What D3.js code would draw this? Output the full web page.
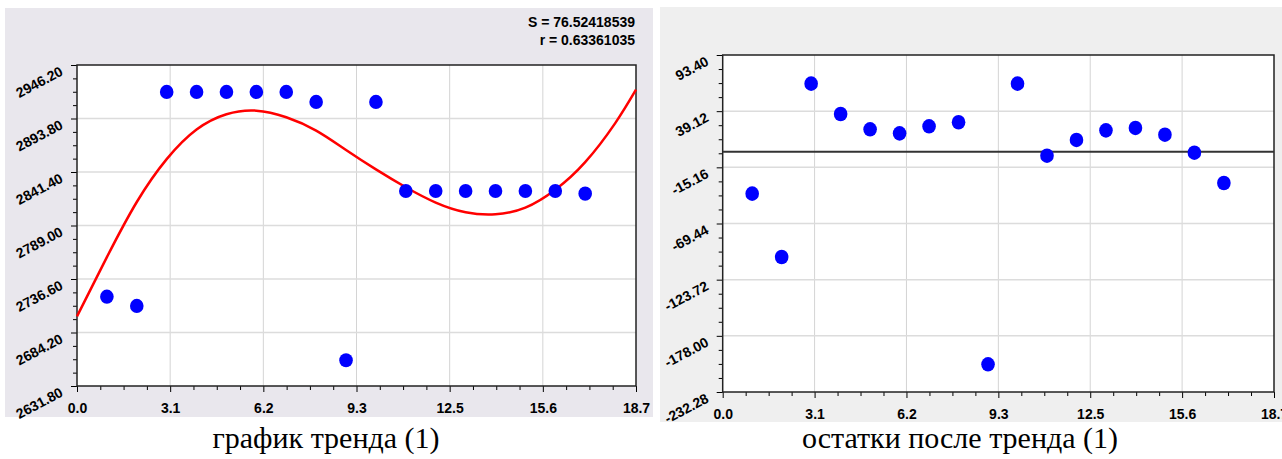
<!DOCTYPE html>
<html>
<head>
<meta charset="utf-8">
<script src="https://cdn.jsdelivr.net/npm/d3@7"></script>
<style>
  body { margin: 0; background: #fff; }
  svg { display: block; }
  .tick text { font-family: "Liberation Sans", Arial, sans-serif; font-weight: bold; font-size: 14px; fill: #000; }
  .caption { font-family: "Liberation Serif", "Times New Roman", serif; font-size: 30px; fill: #000; }
  .stat { font-family: "Liberation Sans", Arial, sans-serif; font-weight: bold; font-size: 14px; fill: #000; }
</style>
</head>
<body>
<div id="chart"></div>
<script>
// observation numbers
var xs = [1, 2, 3, 4, 5, 6, 7, 8, 9, 10, 11, 12, 13, 14, 15, 16, 17];
// observed values (left chart)
var observed = [2719.3, 2710.2, 2919.8, 2919.8, 2919.8, 2919.8, 2919.8, 2910.0, 2657.0,
                2910.0, 2822.8, 2822.8, 2822.8, 2822.8, 2822.8, 2822.8, 2820.2];
// trend curve
var trendX = [0, 1, 2, 3, 4, 5, 6, 7, 8, 9, 10, 11, 12, 13, 14, 15, 16, 17, 18, 18.7];
var trendY = [2700, 2758, 2812, 2854, 2883, 2898, 2901.5, 2895, 2882, 2863, 2844,
              2826.5, 2811.5, 2802, 2800, 2806.5, 2824, 2851, 2889, 2922];
// residuals after trend (right chart)
var residuals = [-40.6, -101.8, 65.7, 36.4, 21.6, 17.7, 24.5, 28.4, -205.5,
                 65.7, -3.9, 11.3, 20.6, 22.9, 16.4, -1.0, -30.3];

var xTickLabels = ["0.0", "3.1", "6.2", "9.3", "12.5", "15.6", "18.7"];
var trendTickLabels = ["2631.80", "2684.20", "2736.60", "2789.00", "2841.40", "2893.80", "2946.20"];
var residTickLabels = ["-232.28", "-178.00", "-123.72", "-69.44", "-15.16", "39.12", "93.40"];
var statLines = ["S = 76.52418539", "r = 0.63361035"];
var captions = ["график тренда (1)", "остатки после тренда (1)"];

var width = 1282, height = 459;

var svg = d3.select("#chart").append("svg")
    .attr("width", width)
    .attr("height", height);

function drawPanel(opt) {
    var g = svg.append("g");

    g.append("rect")
        .attr("x", opt.panel[0]).attr("y", opt.panel[1])
        .attr("width", opt.panel[2]).attr("height", opt.panel[3])
        .attr("fill", opt.bg);

    var x = d3.scaleLinear().domain([0, 18.7]).range([opt.left, opt.right]);
    var y = d3.scaleLinear().domain(opt.yDomain).range([opt.bottom, opt.top]);

    var xMajor = xTickLabels.map(function (d, i) { return i * 18.7 / 6; });
    var yMajor = opt.yLabels.map(function (d, i) { return opt.yDomain[0] + i * (opt.yDomain[1] - opt.yDomain[0]) / 6; });
    var xMinor = [], yMinor = [];
    for (var i = 0; i < 6; i++) {
        for (var j = 1; j < 4; j++) {
            xMinor.push(xMajor[i] + j * (xMajor[1] - xMajor[0]) / 4);
            yMinor.push(yMajor[i] + j * (yMajor[1] - yMajor[0]) / 4);
        }
    }

    // plot area
    g.append("rect")
        .attr("x", opt.left).attr("y", opt.top)
        .attr("width", opt.right - opt.left).attr("height", opt.bottom - opt.top)
        .attr("fill", "#fff");

    // grid
    g.append("g").selectAll("line")
        .data(xMajor.slice(1, -1))
        .enter().append("line")
        .attr("x1", function (d) { return x(d); }).attr("x2", function (d) { return x(d); })
        .attr("y1", opt.top).attr("y2", opt.bottom)
        .attr("stroke", "#d4d4d4").attr("stroke-width", 1);
    g.append("g").selectAll("line")
        .data(yMajor.slice(1, -1))
        .enter().append("line")
        .attr("x1", opt.left).attr("x2", opt.right)
        .attr("y1", function (d) { return y(d); }).attr("y2", function (d) { return y(d); })
        .attr("stroke", "#dcdcdc").attr("stroke-width", 1.5);

    // minor ticks
    g.append("g")
        .attr("transform", "translate(" + opt.left + ",0)")
        .call(d3.axisLeft(y).tickValues(yMinor).tickSize(4).tickSizeOuter(0).tickFormat(""))
        .select(".domain").remove();
    g.append("g")
        .attr("transform", "translate(0," + opt.bottom + ")")
        .call(d3.axisBottom(x).tickValues(xMinor).tickSize(4).tickSizeOuter(0).tickFormat(""))
        .select(".domain").remove();

    // major ticks + labels
    var gy = g.append("g")
        .attr("transform", "translate(" + opt.left + ",0)")
        .call(d3.axisLeft(y).tickValues(yMajor).tickSize(6).tickSizeOuter(0)
            .tickFormat(function (d, i) { return opt.yLabels[i]; }));
    gy.select(".domain").remove();
    gy.selectAll(".tick text")
        .attr("x", null).attr("dy", null)
        .attr("text-anchor", "end")
        .attr("transform", "translate(-13,9) rotate(-28)");

    var gx = g.append("g")
        .attr("transform", "translate(0," + opt.bottom + ")")
        .call(d3.axisBottom(x).tickValues(xMajor).tickSize(6).tickSizeOuter(0)
            .tickFormat(function (d, i) { return xTickLabels[i]; }));
    gx.select(".domain").remove();
    gx.selectAll(".tick text").attr("dy", null).attr("y", opt.xLabelOffset);

    g.selectAll(".tick line").attr("stroke", "#000");

    // frame
    g.append("rect")
        .attr("x", opt.left).attr("y", opt.top)
        .attr("width", opt.right - opt.left).attr("height", opt.bottom - opt.top)
        .attr("fill", "none").attr("stroke", "#222").attr("stroke-width", 1.5);

    return { g: g, x: x, y: y };
}

// left panel: observations with trend
var p1 = drawPanel({
    panel: [5, 8, 648, 409], bg: "#e9e7ed",
    left: 77, right: 636, top: 65, bottom: 386,
    yDomain: [2631.8, 2946.2], yLabels: trendTickLabels, xLabelOffset: 27
});

var line = d3.line()
    .curve(d3.curveNatural)
    .x(function (d, i) { return p1.x(trendX[i]); })
    .y(function (d) { return p1.y(d); });

p1.g.append("path")
    .datum(trendY)
    .attr("d", line)
    .attr("fill", "none")
    .attr("stroke", "#ff0000")
    .attr("stroke-width", 2.5);

p1.g.append("g").selectAll("ellipse")
    .data(xs)
    .enter().append("ellipse")
    .attr("cx", function (d) { return p1.x(d); })
    .attr("cy", function (d, i) { return p1.y(observed[i]); })
    .attr("rx", 6.8).attr("ry", 7.1)
    .attr("fill", "#0000ff");

p1.g.selectAll(".stat")
    .data(statLines)
    .enter().append("text")
    .attr("class", "stat")
    .attr("x", 635)
    .attr("y", function (d, i) { return 27 + i * 18; })
    .attr("text-anchor", "end")
    .text(function (d) { return d; });

// right panel: residuals
var p2 = drawPanel({
    panel: [660, 7, 630, 415], bg: "#efefef",
    left: 722.7, right: 1274, top: 55, bottom: 392,
    yDomain: [-232.28, 93.4], yLabels: residTickLabels, xLabelOffset: 27
});

p2.g.append("line")
    .attr("x1", 722.7).attr("x2", 1274)
    .attr("y1", p2.y(0)).attr("y2", p2.y(0))
    .attr("stroke", "#333").attr("stroke-width", 2);

p2.g.append("g").selectAll("ellipse")
    .data(xs)
    .enter().append("ellipse")
    .attr("cx", function (d) { return p2.x(d); })
    .attr("cy", function (d, i) { return p2.y(residuals[i]); })
    .attr("rx", 6.8).attr("ry", 7.3)
    .attr("fill", "#0000ff");

// captions
svg.selectAll(".caption")
    .data(captions)
    .enter().append("text")
    .attr("class", "caption")
    .attr("x", function (d, i) { return i === 0 ? 326 : 960; })
    .attr("y", 448)
    .attr("text-anchor", "middle")
    .text(function (d) { return d; });
</script>
</body>
</html>
